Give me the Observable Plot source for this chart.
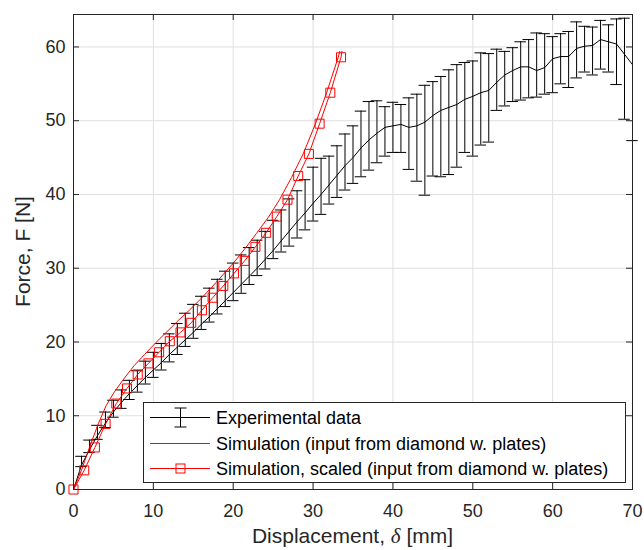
<!DOCTYPE html>
<html><head><meta charset="utf-8">
<script src="https://cdn.jsdelivr.net/npm/d3@7"></script>
<script src="https://cdn.jsdelivr.net/npm/@observablehq/plot@0.6"></script>
<style>
body{margin:0;background:#fff;}
#chart svg{display:block;}
</style></head><body><div id="chart"></div>
<script>
// ---------- data ----------
const expX = [0,1,2,3,4,5,6,7,8,9,10,11,12,13,14,15,16,17,18,19,20,21,22,23,24,25,26,27,28,29,30,31,32,33,34,35,36,37,38,39,40,41,42,43,44,45,46,47,48,49,50,51,52,53,54,55,56,57,58,59,60,61,62,63,64,65,66,67,68,69,70];
const expMean = [0,3.3,5.4,7.3,9.0,10.5,11.8,13.0,14.1,15.2,16.2,17.2,18.3,19.3,20.3,21.3,22.4,23.4,24.5,25.6,26.7,27.8,28.9,30.0,31.2,32.4,33.7,35.0,36.3,37.5,38.8,40.0,41.3,42.6,43.9,45.0,46.3,47.4,48.3,49.1,49.3,49.5,49.1,49.3,49.8,50.7,51.4,51.8,52.2,52.9,53.3,53.8,54.1,55.2,56.2,56.8,57.3,57.3,56.8,57.2,58.4,58.7,58.7,59.8,60.1,60.2,61.0,60.7,60.4,59.0,57.6];
const expLow = [0,3.1,5.0,6.8,8.4,9.8,11.0,12.2,13.2,14.3,15.2,16.2,17.3,18.3,19.4,20.5,21.7,22.7,23.8,24.8,25.6,26.6,27.8,29.0,29.9,31.3,32.2,33.0,34.1,35.2,36.4,37.3,38.7,39.6,40.6,41.5,42.4,43.3,44.3,45.2,45.7,45.7,43.4,41.8,39.9,42.5,42.4,42.7,43.7,45.7,45.2,46.7,47.1,51.4,52.0,52.6,52.8,53.1,53.2,53.6,53.8,55.0,54.5,55.8,56.6,56.2,57.0,56.6,54.9,50.2,47.3];
const expHigh = [0,4.5,6.7,8.7,10.5,12.1,13.5,14.8,16.1,17.4,18.6,19.8,21.1,22.5,23.9,25.1,26.2,27.3,28.5,29.6,30.7,31.8,32.8,33.8,35.0,36.5,37.9,39.4,40.5,42.0,43.7,44.9,45.2,46.6,48.2,49.3,51.3,52.6,52.7,51.9,52.5,52.2,53.1,53.6,54.8,55.3,56.0,56.9,57.6,57.9,58.1,59.2,59.1,59.7,59.4,59.9,60.7,61.0,61.9,61.8,61.4,61.8,62.1,63.4,62.8,62.7,63.6,63.0,63.8,63.9,66.0];

const simX = [0,0.5,1.0,2.0,3.1,4.1,5.1,6.3,7.6,8.9,10.3,11.7,13.1,14.5,15.9,17.3,18.7,20.1,21.5,22.9,24.4,25.8,27.3,28.8,30.3,31.7,33.15,33.35];
const simF = [0,1.3,2.6,5.7,8.9,11.4,13.2,15.0,16.8,18.3,19.9,21.4,22.9,24.3,25.8,27.4,29.1,30.8,32.7,34.7,36.9,39.3,42.3,45.6,49.6,53.8,58.6,59.4];

const scaledX = [0,1.34,2.68,4.02,5.36,6.70,8.04,9.38,10.72,12.06,13.40,14.74,16.08,17.42,18.76,20.10,21.44,22.78,24.12,25.46,26.80,28.14,29.48,30.82,32.16,33.50];
const scaledF = [0,2.6,5.7,8.9,11.65,13.7,15.6,17.1,18.6,20.1,21.3,22.6,24.3,26.0,27.6,29.3,31.0,32.9,34.8,37.0,39.3,42.5,45.5,49.6,53.8,58.6];
const scaledTailX = [33.62];
const scaledTailF = [59.4];

const xTicks = [0,10,20,30,40,50,60,70];
const yTicks = [0,10,20,30,40,50,60];
const xDomain = [0,70];
const yDomain = [0,64.4];
const legendLabels = ["Experimental data","Simulation (input from diamond w. plates)","Simulation, scaled (input from diamond w. plates)"];
const yTitle = "Force, F [N]";
const xTitleParts = ["Displacement, ", "\u03B4", " [mm]"];

// ---------- tables ----------
const exp = expX.map((x,i)=>({x, mean: expMean[i], lo: expLow[i], hi: expHigh[i]}));
const sim = simX.map((x,i)=>({x, F: simF[i]}));
const scaledMarks = scaledX.map((x,i)=>({x, F: scaledF[i]}));
const scaledLine = scaledMarks.concat(scaledTailX.map((x,i)=>({x, F: scaledTailF[i]})));

// ---------- layout ----------
const W=644, H=550, mL=73, mR=12, mT=14, mB=61;
const innerW = W-mL-mR, innerH = H-mT-mB;
const tickLen = 6;
const capHalf = 0.72;
const axisCol = "#262626";
const gridCol = "#e0e0e0";
const red = "#ff0000";
const yMax = yDomain[1];

const chart = Plot.plot({
  width: W, height: H,
  marginLeft: mL, marginRight: mR, marginTop: mT, marginBottom: mB,
  style: {fontFamily: "'Liberation Sans', Arial, Helvetica, sans-serif", fontSize: "18px", color: axisCol, background: "white", overflow: "visible"},
  x: {domain: xDomain, label: null},
  y: {domain: yDomain, label: null},
  marks: [
    Plot.gridX(xTicks, {stroke: gridCol, strokeOpacity: 1, strokeWidth: 1}),
    Plot.gridY(yTicks, {stroke: gridCol, strokeOpacity: 1, strokeWidth: 1}),
    // error bars
    Plot.ruleX(exp, {x: "x", y1: "lo", y2: d => Math.min(d.hi, yMax), stroke: "#000", strokeWidth: 1}),
    Plot.ruleY(exp.filter(d => d.lo > 0), {y: "lo", x1: d => d.x - capHalf, x2: d => d.x + capHalf, stroke: "#000", strokeWidth: 1}),
    Plot.ruleY(exp.filter(d => d.hi > 0 && d.hi <= yMax), {y: "hi", x1: d => d.x - capHalf, x2: d => d.x + capHalf, stroke: "#000", strokeWidth: 1}),
    Plot.line(exp, {x: "x", y: "mean", stroke: "#000", strokeWidth: 1}),
    // simulations
    Plot.line(sim, {x: "x", y: "F", stroke: red, strokeWidth: 1}),
    Plot.line(scaledLine, {x: "x", y: "F", stroke: red, strokeWidth: 1}),
    Plot.dot(scaledMarks, {x: "x", y: "F", symbol: "square", r: 5.1, stroke: red, fill: "none", strokeWidth: 1}),
    // frame and inward ticks
    Plot.frame({stroke: axisCol, strokeWidth: 1}),
    Plot.tickX(xTicks, {x: d => d, insetTop: innerH - tickLen, stroke: axisCol}),
    Plot.tickX(xTicks, {x: d => d, insetBottom: innerH - tickLen, stroke: axisCol}),
    Plot.tickY(yTicks, {y: d => d, insetRight: innerW - tickLen, stroke: axisCol}),
    Plot.tickY(yTicks, {y: d => d, insetLeft: innerW - tickLen, stroke: axisCol}),
    Plot.axisX({ticks: xTicks, tickSize: 0, tickPadding: 15, fontSize: 18, fill: axisCol, label: null}),
    Plot.axisY({ticks: yTicks, tickSize: 0, tickPadding: 8, fontSize: 18, fill: axisCol, label: null})
  ]
});
document.getElementById("chart").appendChild(chart);

// ---------- titles & legend ----------
const svg = d3.select(chart);
const font = "'Liberation Sans', Arial, Helvetica, sans-serif";

svg.append("text")
  .attr("transform", `translate(30,${mT + innerH/2}) rotate(-90)`)
  .attr("text-anchor", "middle")
  .attr("font-family", font).attr("font-size", 21).attr("fill", axisCol)
  .text(yTitle);

const xt = svg.append("text")
  .attr("x", mL + innerW/2).attr("y", 543)
  .attr("text-anchor", "middle")
  .attr("font-family", font).attr("font-size", 21).attr("fill", axisCol);
xt.append("tspan").text(xTitleParts[0]);
xt.append("tspan").attr("font-family", "'Liberation Serif', 'DejaVu Serif', serif").attr("font-style", "italic").text(xTitleParts[1]);
xt.append("tspan").text(xTitleParts[2]);

const lg = svg.append("g");
lg.append("rect").attr("x", 143.5).attr("y", 402.5).attr("width", 482).attr("height", 80)
  .attr("fill", "white").attr("stroke", axisCol).attr("stroke-width", 1);
const rowY = [417.5, 443.5, 468.5];
const sx1 = 150, sx2 = 210, sxm = 180.5, tx = 216;
// row 1: errorbar sample
lg.append("line").attr("x1", sx1).attr("x2", sx2).attr("y1", rowY[0]).attr("y2", rowY[0]).style("stroke", "#000").style("stroke-width", "1px");
lg.append("line").attr("x1", sxm).attr("x2", sxm).attr("y1", rowY[0]-9.5).attr("y2", rowY[0]+9.5).style("stroke", "#000");
lg.append("line").attr("x1", sxm-6).attr("x2", sxm+6).attr("y1", rowY[0]-9.5).attr("y2", rowY[0]-9.5).style("stroke", "#000");
lg.append("line").attr("x1", sxm-6).attr("x2", sxm+6).attr("y1", rowY[0]+9.5).attr("y2", rowY[0]+9.5).style("stroke", "#000");
// row 2
lg.append("line").attr("x1", sx1).attr("x2", sx2).attr("y1", rowY[1]).attr("y2", rowY[1]).style("stroke", red).style("stroke-width", "1px");
// row 3
lg.append("line").attr("x1", sx1).attr("x2", sx2).attr("y1", rowY[2]).attr("y2", rowY[2]).style("stroke", red).style("stroke-width", "1px");
lg.append("rect").attr("x", sxm-4.5).attr("y", rowY[2]-4.5).attr("width", 9).attr("height", 9)
  .style("fill", "none").style("stroke", red);
legendLabels.forEach((t,i) => {
  lg.append("text").attr("x", tx).attr("y", rowY[i]).attr("dy", "0.36em")
    .attr("text-anchor", "start")
    .attr("font-family", font).attr("font-size", 18).attr("fill", "#000").text(t);
});
</script>
</body></html>
